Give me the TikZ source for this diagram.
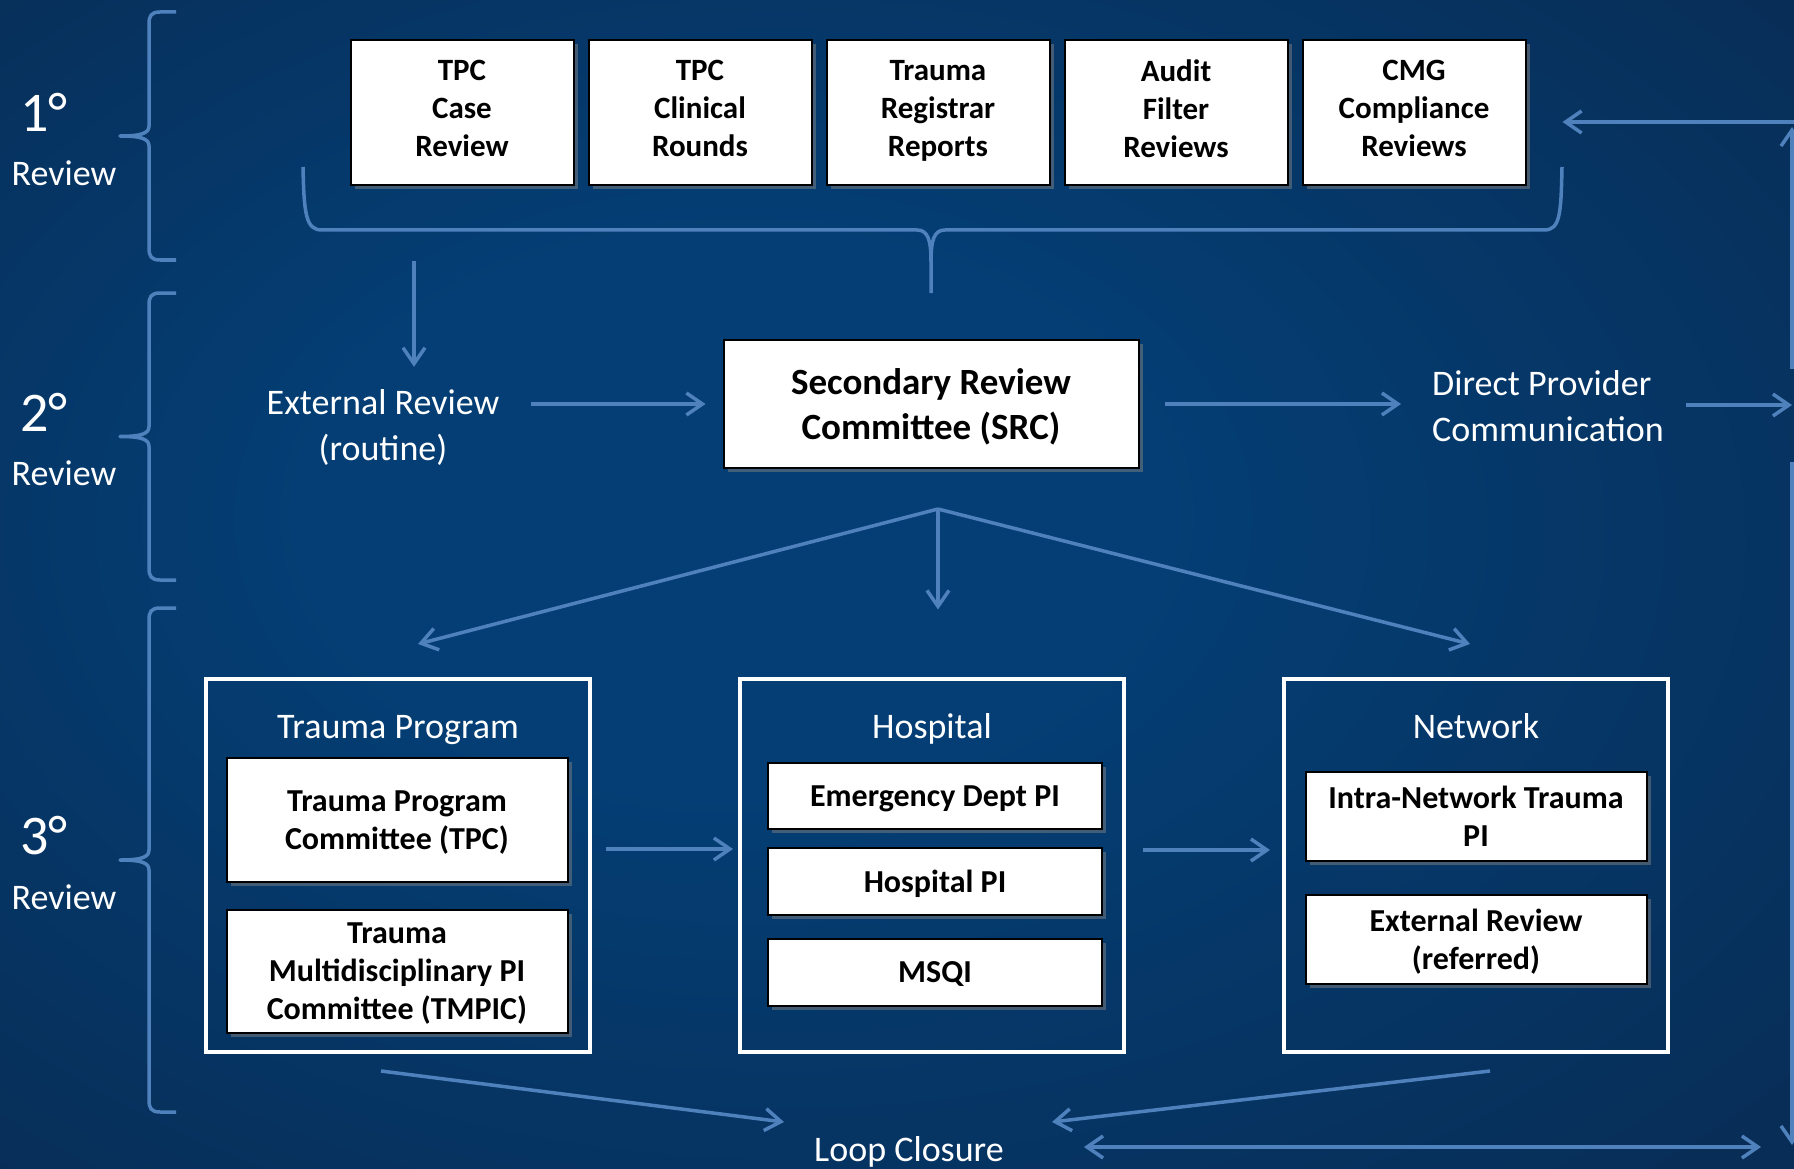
\documentclass[tikz,border=0pt]{standalone}
\usepackage{fontspec}
\setmainfont{Carlito}
\usepackage{tikz}
\usetikzlibrary{arrows.meta,positioning,shadows}

\definecolor{bgin}{RGB}{4,62,116}
\definecolor{bgout}{RGB}{10,36,70}
\definecolor{flow}{RGB}{79,129,189}
\pgfdeclareradialshading{backdrop}{\pgfpoint{-6bp}{4bp}}{color(0bp)=(bgin); color(12bp)=(bgin); color(50bp)=(bgout)}

\begin{document}
\begin{tikzpicture}[
    x=1pt, y=-1pt,
    label/.style={text=white, font=\fontsize{36}{46}\selectfont, align=center, inner sep=0pt},
    box/.style={rectangle, draw=black, line width=2pt, fill=white, text=black, align=center, inner sep=0pt, text depth=0pt,
        drop shadow={shadow xshift=4pt, shadow yshift=-4pt, opacity=0.5}},
    topbox/.style={box, minimum width=223pt, minimum height=145pt, text depth=9pt, font=\fontsize{31}{38}\selectfont\bfseries},
    subbox/.style={box, minimum width=341pt, font=\fontsize{32}{38}\selectfont\bfseries},
    group/.style={rectangle, draw=white, line width=4pt, minimum width=384pt, minimum height=373pt, inner sep=0pt},
    flowline/.style={draw=flow, line width=3.5pt, line join=round},
    flowarrow/.style={flowline, -{Straight Barb[length=16pt, width=22pt]}}
]
\useasboundingbox (0,0) rectangle (1794,1169);
\shade[shading=backdrop] (0,0) rectangle (1794,1169);

% review levels
\foreach \n/\t/\b in {1/12/260, 2/293/580, 3/608/1112} {
    \pgfmathsetmacro\m{(\t+\b)/2}
    \draw[flowline] (176,\t) -- (160,\t) .. controls (151,\t) and (149,\t+4) .. (149,\t+12)
        -- (149,\m-10) .. controls (149,\m-3) and (142,\m) .. (120,\m)
        .. controls (142,\m) and (149,\m+3) .. (149,\m+10)
        -- (149,\b-12) .. controls (149,\b-4) and (151,\b) .. (160,\b) -- (176,\b);
    \node[label, font=\fontsize{56}{56}\selectfont] (deg\n) at (44,\m-24) {\n°};
    \node[label] (rev\n) at (64,\m+37) {Review};
}

% primary
\node[topbox] (tpc) at (462,113) {TPC\\Case\\Review};
\node[topbox, right=13pt of tpc] (rounds) {TPC\\Clinical\\Rounds};
\node[topbox, right=13pt of rounds] (registrar) {Trauma\\Registrar\\Reports};
\node[topbox, right=13pt of registrar] (audit) {Audit\\Filter\\Reviews};
\node[topbox, right=13pt of audit] (cmg) {CMG\\Compliance\\Reviews};

\draw[flowline] (303,167) .. controls (304,215) and (306,230) .. (322,230) -- (917,230)
    .. controls (928,230) and (931,240) .. (931,262) -- (931,293);
\draw[flowline] (931,262) .. controls (931,240) and (934,230) .. (945,230) -- (1544,230)
    .. controls (1560,230) and (1561,215) .. (1562,167);

% secondary
\node[box, minimum width=415pt, minimum height=128pt, font=\fontsize{37}{45}\selectfont\bfseries] (src) at (931,404) {Secondary Review\\Committee (SRC)};
\node[label] (ext) at (383,427) {External Review\\(routine)};
\node[label, anchor=west, align=left] (dpc) at (1432,406) {Direct Provider\\Communication};

\coordinate (extin) at (414,261);
\coordinate (rimtop) at (1794,122);
\coordinate (rimup) at (1792,369);
\coordinate (rimmid) at (1792,405);
\coordinate (rimdown) at (1792,462);
\coordinate (rimbot) at (1792,1145);

\draw[flowarrow, shorten >=22pt] (extin) -- (extin |- ext.north);
\draw[flowarrow, shorten <=31pt, shorten >=17pt] (ext.east |- src) -- (src.west);
\draw[flowarrow, shorten <=25pt, shorten >=31pt] (src.east) -- (src.east -| dpc.west);
\draw[flowarrow, shorten <=22pt] (dpc.east |- rimmid) -- (rimmid);
\draw[flowarrow] (rimup) -- (1792,127);
\draw[flowarrow, shorten >=36pt] (rimtop) -- (rimtop -| cmg.east);
\draw[flowarrow] (rimdown) -- (rimbot);

% tertiary
\node[group] (tp) at (398,865) {};
\node[group] (hosp) at (932,865) {};
\node[group] (net) at (1476,865) {};
\node[label, anchor=base] (tptitle) at ([yshift=-62pt]tp.north) {Trauma Program};
\node[label, anchor=base] (hosptitle) at ([yshift=-62pt]hosp.north) {Hospital};
\node[label, anchor=base] (nettitle) at ([yshift=-62pt]net.north) {Network};

\node[subbox, minimum height=124pt] (tpcom) at (397,820) {Trauma Program\\Committee (TPC)};
\node[subbox, minimum height=123pt] (tmpic) at (397,971) {Trauma\\Multidisciplinary PI\\Committee (TMPIC)};
\node[subbox, minimum width=334pt, minimum height=66pt] (edpi) at (935,796) {Emergency Dept PI};
\node[subbox, minimum width=334pt, minimum height=67pt] (hpi) at (935,881) {Hospital PI};
\node[subbox, minimum width=334pt, minimum height=67pt] (msqi) at (935,972) {MSQI};
\node[subbox, minimum height=89pt] (intra) at (1476,816) {Intra-Network Trauma\\PI};
\node[subbox, minimum height=89pt] (extref) at (1476,939) {External Review\\(referred)};

\coordinate (fan) at (938,509);
\coordinate (tpin) at (418,644);
\coordinate (netin) at (1470,644);
\draw[flowarrow] (fan) -- (tpin);
\draw[flowarrow, shorten <=2pt, shorten >=67pt] (fan) -- (fan |- hosp.north);
\draw[flowarrow] (fan) -- (netin);

\draw[flowarrow, shorten <=14pt, shorten >=5pt] ([yshift=16pt]tp.east) -- ([yshift=16pt]hosp.west);
\draw[flowarrow, shorten <=17pt, shorten >=12pt] ([yshift=15pt]hosp.east) -- ([yshift=15pt]net.west);

% loop closure
\node[label] (loop) at (909,1152) {Loop Closure};
\coordinate (tpout) at (381,1071);
\coordinate (netout) at (1490,1071);
\draw[flowarrow] (tpout) -- (784,1122);
\draw[flowarrow] (netout) -- (1052,1122);
\draw[flowline, {Straight Barb[length=16pt, width=22pt]}-{Straight Barb[length=16pt, width=22pt]}, shorten <=80pt, shorten >=31pt] (loop.east |- 0,1147) -- (rimbot |- 0,1147);
\end{tikzpicture}
\end{document}
